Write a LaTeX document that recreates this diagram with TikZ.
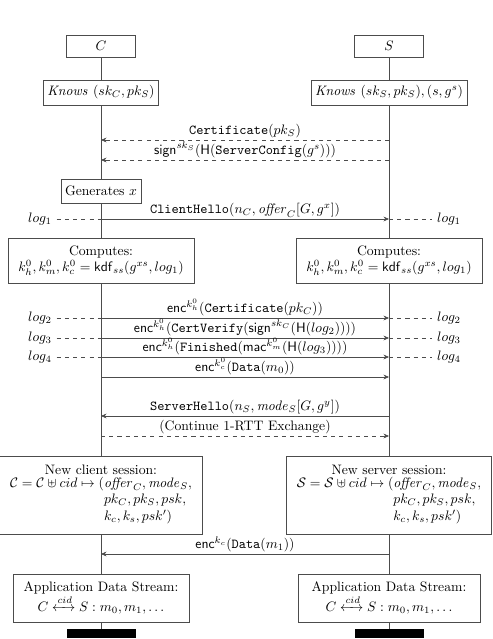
\documentclass[tikz,border=0pt]{standalone}
\usepackage{amsmath,amssymb,mathtools}
\usetikzlibrary{arrows.meta}
\begin{document}
\begin{tikzpicture}[x=0.73pt,y=0.73pt,
  line/.style={draw=black!70, line width=0.5pt},
  box/.style={draw=black!70, line width=0.5pt, fill=white, align=center, inner sep=3pt},
  msg/.style={line, -{Stealth[length=4pt,width=3.5pt]}},
  dmsg/.style={msg, dashed},
  logdash/.style={line, dashed},
  lbl/.style={inner sep=1pt, anchor=south},
  bar/.style={fill=black, draw=none, minimum width=69*0.73pt, minimum height=9*0.73pt, inner sep=0pt}]
\useasboundingbox (0,0) rectangle (492,-639);
\def\xc{101}
\def\xs{389}
% headers
\node[box, minimum width=69*0.73pt, minimum height=22*0.73pt] (C) at (\xc,-46) {$C$};
\node[box, minimum width=69*0.73pt, minimum height=22*0.73pt] (S) at (\xs,-46) {$S$};
\node[box, minimum height=25*0.73pt] (knC) at (\xc,-92.5) {$\mathit{Knows}\ (sk_C, pk_S)$};
\node[box, minimum height=25*0.73pt] (knS) at (\xs,-92.5) {$\mathit{Knows}\ (sk_S, pk_S), (s, g^s)$};
\node[box, minimum height=24*0.73pt] (gen) at (\xc,-191) {Generates $x$};
\node[box, minimum width=186*0.73pt, minimum height=45*0.73pt] (cmpC) at (\xc,-260.5) {Computes:\\ $k_h^0, k_m^0, k_c^0 = \mathsf{kdf}_{ss}(g^{xs}, log_1)$};
\node[box, minimum width=186*0.73pt, minimum height=45*0.73pt] (cmpS) at (\xs,-260.5) {Computes:\\ $k_h^0, k_m^0, k_c^0 = \mathsf{kdf}_{ss}(g^{xs}, log_1)$};
\node[box, minimum width=203*0.73pt, minimum height=78*0.73pt] (newC) at (\xc,-495) {New client session:\\ $\begin{array}{@{}r@{}l@{}}\mathcal{C} = \mathcal{C} \uplus cid \mapsto (&\mathit{offer}_C, \mathit{mode}_S,\\ &pk_C, pk_S, psk,\\ &k_c, k_s, psk')\end{array}$};
\node[box, minimum width=205*0.73pt, minimum height=78*0.73pt] (newS) at (\xs,-495) {New server session:\\ $\begin{array}{@{}r@{}l@{}}\mathcal{S} = \mathcal{S} \uplus cid \mapsto (&\mathit{offer}_C, \mathit{mode}_S,\\ &pk_C, pk_S, psk,\\ &k_c, k_s, psk')\end{array}$};
\node[box, minimum width=176*0.73pt, minimum height=48*0.73pt] (appC) at (\xc,-598) {Application Data Stream:\\ $C \xleftrightarrow{cid} S : m_0, m_1, \ldots$};
\node[box, minimum width=182*0.73pt, minimum height=48*0.73pt] (appS) at (\xs,-598) {Application Data Stream:\\ $C \xleftrightarrow{cid} S : m_0, m_1, \ldots$};
\node[bar] (barC) at (\xc,-633.5) {};
\node[bar] (barS) at (\xs,-633.5) {};
% lifelines
\draw[line] (C) -- (knC) (knC) -- (gen) (gen) -- (cmpC) (cmpC) -- (newC) (newC) -- (appC) (appC) -- (barC);
\draw[line] (S) -- (knS) (knS) -- (cmpS) (cmpS) -- (newS) (newS) -- (appS) (appS) -- (barS);
% lifeline points
\foreach \n/\y in {a/140, b/160, c/219, d/318, e/338, f/357, g/377, h/416, i/436, j/554} {
  \coordinate (c\n) at (\xc,-\y);
  \coordinate (s\n) at (\xs,-\y);
}
% log labels
\node (l1L) at (40,-219) {$log_1$};
\node (l1R) at (449,-219) {$log_1$};
\node (l2L) at (40,-318) {$log_2$};
\node (l2R) at (449,-318) {$log_2$};
\node (l3L) at (40,-338) {$log_3$};
\node (l3R) at (449,-338) {$log_3$};
\node (l4L) at (40,-357) {$log_4$};
\node (l4R) at (449,-357) {$log_4$};
\draw[logdash] (l1L) -- (cc) (sc) -- (l1R);
\draw[logdash] (l2L) -- (cd) (sd) -- (l2R);
\draw[logdash] (l3L) -- (ce) (se) -- (l3R);
\draw[logdash] (l4L) -- (cf) (sf) -- (l4R);
% messages
\draw[dmsg] (sa) -- node[lbl] (m1) {\texttt{Certificate}$(pk_S)$} (ca);
\draw[dmsg] (sb) -- node[lbl] (m2) {$\mathsf{sign}^{sk_S}(\mathsf{H}(\texttt{ServerConfig}(g^s)))$} (cb);
\draw[msg] (cc) -- node[lbl] (m3) {\texttt{ClientHello}$(n_C, \mathit{offer}_C[G, g^x])$} (sc);
\draw[msg] (cd) -- node[lbl] (m4) {$\mathsf{enc}^{k_h^0}(\texttt{Certificate}(pk_C))$} (sd);
\draw[msg] (ce) -- node[lbl] (m5) {$\mathsf{enc}^{k_h^0}(\texttt{CertVerify}(\mathsf{sign}^{sk_C}(\mathsf{H}(log_2))))$} (se);
\draw[msg] (cf) -- node[lbl] (m6) {$\mathsf{enc}^{k_h^0}(\texttt{Finished}(\mathsf{mac}^{k_m^0}(\mathsf{H}(log_3))))$} (sf);
\draw[msg] (cg) -- node[lbl] (m7) {$\mathsf{enc}^{k_c^0}(\texttt{Data}(m_0))$} (sg);
\draw[msg] (sh) -- node[lbl] (m8) {\texttt{ServerHello}$(n_S, \mathit{mode}_S[G, g^y])$} (ch);
\draw[dmsg] (ci) -- node[lbl] (m9) {(Continue 1-RTT Exchange)} (si);
\draw[msg] (sj) -- node[lbl] (m10) {$\mathsf{enc}^{k_c}(\texttt{Data}(m_1))$} (cj);
\end{tikzpicture}
\end{document}
